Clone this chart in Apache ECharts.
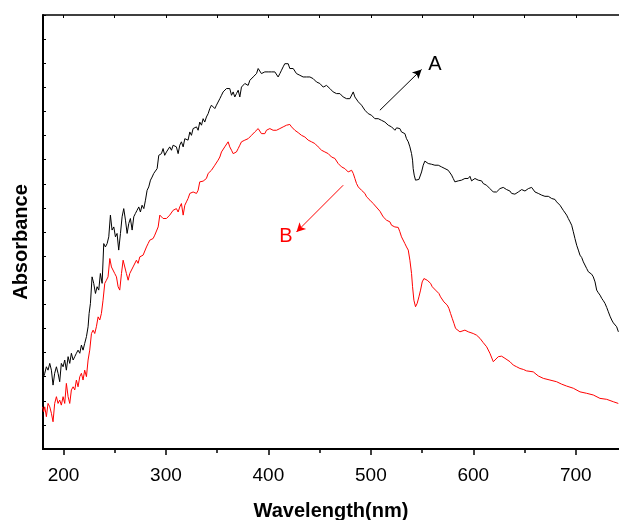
<!DOCTYPE html>
<html>
<head>
<meta charset="utf-8">
<script src="https://cdn.jsdelivr.net/npm/echarts@6/dist/echarts.min.js"></script>
<style>html,body{margin:0;padding:0;background:#fff}#chart{width:619px;height:520px}</style>
</head>
<body>
<div id="chart"></div>
<script>
// spectra: [wavelength nm, absorbance a.u.]
var curveA = [[180.1,0.293],[181.7,0.314],[183.3,0.341],[184.9,0.327],[186.6,0.355],[188.2,0.327],[189.8,0.265],[191.4,0.314],[193.1,0.341],[194.7,0.314],[196.3,0.279],[197.9,0.355],[199.6,0.341],[201.2,0.369],[202.8,0.327],[204.5,0.383],[206.1,0.355],[207.7,0.397],[209.4,0.369],[211.0,0.383],[212.6,0.397],[214.2,0.410],[215.9,0.397],[217.5,0.431],[219.1,0.410],[220.7,0.438],[222.4,0.466],[224.0,0.507],[225.0,0.562],[226.3,0.604],[227.9,0.714],[229.5,0.687],[231.2,0.645],[232.8,0.673],[234.4,0.659],[236.0,0.728],[237.7,0.687],[239.3,0.852],[240.9,0.838],[242.6,0.852],[244.2,0.880],[245.8,0.970],[247.4,0.908],[249.1,0.921],[250.7,0.880],[252.3,0.894],[253.9,0.825],[255.6,0.894],[257.2,0.963],[258.8,0.997],[260.5,0.949],[262.1,0.894],[263.7,0.935],[265.3,0.956],[267.0,0.908],[268.6,0.963],[270.2,0.977],[271.8,0.990],[273.5,1.004],[275.1,0.983],[276.7,1.011],[278.4,0.997],[280.0,1.032],[281.6,1.073],[283.2,1.087],[284.9,1.115],[286.5,1.128],[288.1,1.143],[289.8,1.149],[291.4,1.163],[293.0,1.218],
	[295.6,1.225],[297.2,1.246],[298.8,1.218],[300.5,1.232],[302.1,1.225],[303.7,1.253],[305.4,1.239],[307.0,1.260],[308.6,1.267],[310.2,1.253],[311.9,1.225],[313.5,1.260],[315.1,1.274],[316.8,1.253],[318.4,1.287],[320.0,1.294],[321.6,1.281],[323.3,1.315],[324.9,1.301],[326.5,1.329],[328.1,1.322],[329.8,1.336],[331.4,1.322],[333.0,1.356],[334.7,1.343],[336.3,1.370],[337.9,1.356],[339.5,1.377],[341.2,1.391],[342.8,1.412],[344.4,1.426],[346.1,1.419],[347.7,1.412],[349.3,1.426],[350.9,1.433],[352.6,1.453],[354.2,1.467],[355.8,1.481],[357.4,1.488],[359.1,1.495],[360.7,1.501],[362.3,1.495],[364.0,1.467],[365.6,1.481],[367.2,1.460],[368.8,1.474],[370.5,1.488],[372.1,1.460],[373.7,1.501],[375.3,1.508],[377.0,1.516],[378.6,1.522],[380.2,1.508],[381.9,1.529],[383.5,1.536],[385.1,1.543],[386.7,1.550],[388.4,1.557],[390.0,1.578],[391.6,1.571],[393.2,1.557],[394.9,1.564],[396.5,1.564],[398.1,1.571],[399.8,1.564],[401.4,1.567],[403.0,1.564],[404.6,1.571],[406.3,1.564],[407.9,1.557],
	[409.5,1.543],[411.2,1.557],[412.8,1.571],[414.4,1.585],[416.0,1.598],[417.7,1.605],[419.3,1.598],[420.9,1.578],[422.6,1.585],[424.2,1.578],[425.8,1.571],[427.4,1.557],[429.1,1.557],[430.7,1.550],[432.3,1.550],[433.9,1.543],[435.6,1.550],[437.2,1.543],[438.8,1.550],[440.5,1.543],[442.1,1.536],[443.7,1.536],[445.3,1.529],[447.0,1.522],[448.6,1.522],[450.2,1.516],[451.9,1.508],[453.5,1.501],[455.1,1.495],[456.7,1.508],[458.4,1.501],[460.0,1.495],[461.6,1.488],[463.2,1.481],[464.9,1.481],[466.5,1.474],[468.1,1.481],[469.8,1.474],[471.4,1.467],[473.0,1.460],[474.6,1.460],[476.3,1.453],[477.9,1.456],[479.5,1.453],[481.2,1.460],[482.8,1.481],[484.4,1.460],[486.0,1.453],[487.7,1.440],[489.3,1.433],[490.9,1.426],[492.5,1.419],[494.2,1.405],[495.8,1.398],[497.4,1.391],[499.1,1.384],[500.7,1.384],[502.3,1.377],[503.9,1.370],[505.6,1.377],[507.2,1.370],[508.8,1.363],[510.5,1.363],[512.1,1.356],[513.7,1.356],[515.3,1.350],[517.0,1.343],[518.6,1.343],[520.2,1.336],[521.8,1.329],[523.5,1.322],[525.1,1.332],[526.7,1.326],
	[528.3,1.329],[529.9,1.315],[531.6,1.308],[533.2,1.308],[534.8,1.287],[536.5,1.274],[538.1,1.253],[539.7,1.225],[540.7,1.198],[541.3,1.163],[542.3,1.136],[543.6,1.115],[545.2,1.112],[546.9,1.118],[548.5,1.126],[549.5,1.149],[551.1,1.177],[552.7,1.194],[554.4,1.191],[556.0,1.184],[557.6,1.187],[559.2,1.181],[560.9,1.184],[562.5,1.177],[564.1,1.181],[565.8,1.177],[567.4,1.173],[569.0,1.170],[570.6,1.167],[572.3,1.163],[573.9,1.159],[575.5,1.156],[577.1,1.149],[578.8,1.136],[580.4,1.122],[582.0,1.108],[583.7,1.115],[585.3,1.112],[586.9,1.118],[588.5,1.115],[590.2,1.118],[591.8,1.122],[593.4,1.115],[595.0,1.122],[596.7,1.131],[598.3,1.112],[599.9,1.115],[601.6,1.122],[603.2,1.128],[604.8,1.115],[606.4,1.108],[608.1,1.112],[609.7,1.101],[611.3,1.098],[612.9,1.094],[614.6,1.087],[616.2,1.080],[617.8,1.073],[619.5,1.066],[621.1,1.060],[622.7,1.066],[624.3,1.073],[626.0,1.080],[627.6,1.087],[629.2,1.085],[630.9,1.080],[632.5,1.076],[634.1,1.073],[635.7,1.070],
	[637.4,1.060],[639.0,1.062],[640.6,1.057],[642.3,1.062],[643.9,1.066],[645.5,1.070],[647.2,1.076],[648.8,1.073],[650.4,1.070],[652.0,1.076],[653.7,1.080],[655.3,1.080],[656.9,1.085],[658.6,1.080],[660.2,1.066],[661.8,1.062],[663.4,1.060],[665.1,1.057],[666.7,1.053],[668.3,1.053],[669.9,1.048],[671.6,1.046],[673.2,1.048],[674.8,1.043],[676.5,1.039],[678.1,1.046],[679.7,1.035],[681.3,1.025],[683.0,1.018],[684.6,1.011],[686.2,1.007],[687.8,0.990],[689.5,0.983],[691.1,0.970],[692.7,0.956],[694.4,0.942],[696.0,0.928],[697.6,0.901],[699.2,0.873],[700.9,0.845],[702.5,0.825],[704.1,0.804],[705.8,0.794],[707.4,0.776],[709.0,0.770],[710.6,0.749],[712.3,0.735],[713.9,0.728],[715.5,0.725],[717.1,0.714],[718.8,0.693],[720.4,0.659],[722.0,0.648],[723.7,0.638],[725.3,0.625],[726.9,0.615],[728.5,0.604],[730.2,0.587],[731.8,0.569],[733.4,0.551],[735.1,0.535],[736.7,0.523],[738.3,0.518],[739.9,0.507],[741.6,0.486]]
var curveB = [[179.4,0.175],[180.7,0.155],[181.7,0.175],[183.3,0.134],[184.9,0.189],[186.6,0.175],[188.2,0.148],[189.8,0.113],[191.4,0.189],[193.1,0.217],[194.7,0.189],[196.3,0.203],[197.9,0.182],[199.6,0.217],[201.2,0.189],[202.8,0.272],[204.5,0.217],[206.1,0.189],[207.7,0.245],[209.4,0.258],[211.0,0.245],[212.6,0.286],[214.2,0.258],[215.9,0.300],[217.5,0.314],[219.1,0.286],[220.7,0.327],[222.4,0.300],[224.0,0.369],[225.6,0.410],[227.3,0.479],[228.9,0.493],[230.5,0.479],[232.1,0.507],[233.8,0.548],[235.4,0.535],[237.0,0.562],[238.6,0.617],[240.3,0.687],[241.9,0.700],[243.5,0.714],[245.2,0.790],[246.8,0.755],[248.4,0.763],[250.0,0.728],[251.7,0.714],[253.3,0.673],[254.9,0.659],[256.6,0.728],[258.2,0.783],[259.8,0.776],[261.4,0.728],[263.1,0.700],[264.7,0.728],[266.3,0.735],[267.9,0.755],[269.6,0.749],[271.2,0.783],[272.8,0.770],[274.5,0.797],[276.1,0.790],[277.7,0.804],[279.3,0.811],[281.0,0.838],[282.6,0.852],[284.2,0.866],[285.8,0.873],[287.5,0.873],[289.1,0.887],[290.7,0.894],[292.4,0.921],[294.0,0.970],
	[295.6,0.963],[297.2,0.956],[298.8,0.963],[300.5,0.956],[302.1,0.963],[303.7,0.970],[305.4,0.977],[307.0,0.990],[308.6,0.983],[310.2,0.997],[311.9,0.983],[313.5,1.004],[315.1,1.018],[316.8,0.970],[318.4,1.011],[320.0,1.025],[321.6,1.039],[323.3,1.060],[324.9,1.066],[326.5,1.066],[328.1,1.073],[329.8,1.060],[331.4,1.073],[333.0,1.108],[334.7,1.101],[336.3,1.111],[337.9,1.115],[339.5,1.122],[341.2,1.143],[342.8,1.149],[344.4,1.156],[346.1,1.163],[347.7,1.177],[349.3,1.177],[350.9,1.198],[352.6,1.211],[354.2,1.232],[355.8,1.239],[357.4,1.253],[359.1,1.260],[360.7,1.274],[362.3,1.253],[364.0,1.239],[365.6,1.225],[367.2,1.218],[368.8,1.232],[370.5,1.246],[372.1,1.260],[373.7,1.274],[375.3,1.267],[377.0,1.281],[378.6,1.274],[380.2,1.287],[381.9,1.294],[383.5,1.301],[385.1,1.308],[386.7,1.315],[388.4,1.322],[390.0,1.329],[391.6,1.322],[393.2,1.308],[394.9,1.315],[396.5,1.308],[398.1,1.322],[399.8,1.315],[401.4,1.329],
	[403.0,1.326],[404.6,1.322],[406.3,1.329],[407.9,1.322],[409.5,1.315],[411.2,1.329],[412.8,1.332],[414.4,1.336],[416.0,1.340],[417.7,1.343],[419.3,1.340],[420.9,1.346],[422.6,1.336],[424.2,1.329],[425.8,1.322],[427.4,1.315],[429.1,1.312],[430.7,1.308],[432.3,1.301],[433.9,1.294],[435.6,1.294],[437.2,1.287],[438.8,1.281],[440.5,1.276],[442.1,1.274],[443.7,1.271],[445.3,1.267],[447.0,1.260],[448.6,1.253],[450.2,1.246],[451.9,1.239],[453.5,1.239],[455.1,1.232],[456.7,1.225],[458.4,1.225],[460.0,1.218],[461.6,1.211],[463.2,1.205],[464.9,1.205],[466.5,1.198],[468.1,1.184],[469.8,1.177],[471.4,1.170],[473.0,1.163],[474.6,1.163],[476.3,1.156],[477.9,1.149],[479.5,1.149],[481.2,1.156],[482.8,1.143],[484.4,1.122],[486.0,1.101],[487.7,1.087],[489.3,1.080],[490.9,1.073],[492.5,1.066],[494.2,1.060],[495.8,1.046],[497.4,1.039],[499.1,1.032],[500.7,1.025],[502.3,1.018],[508.9,0.986],[512.0,0.963],[515.3,0.949],
	[518.6,0.942],[520.2,0.928],[521.8,0.921],[523.4,0.921],[525.1,0.915],[526.7,0.919],[528.3,0.901],[529.9,0.880],[531.6,0.873],[533.2,0.852],[534.8,0.838],[536.5,0.825],[538.1,0.783],[539.7,0.728],[540.7,0.673],[542.0,0.617],[543.6,0.590],[545.2,0.604],[546.9,0.631],[548.5,0.659],[550.1,0.693],[551.8,0.707],[553.4,0.707],[555.0,0.700],[556.6,0.693],[558.3,0.687],[559.9,0.673],[561.5,0.666],[563.1,0.659],[564.8,0.652],[566.4,0.645],[568.0,0.631],[569.7,0.625],[571.3,0.610],[572.9,0.604],[574.5,0.597],[576.2,0.583],[577.8,0.562],[579.4,0.542],[581.1,0.521],[582.7,0.500],
	[586.9,0.486],[591.8,0.493],[595.1,0.486],[599.9,0.479],[603.2,0.472],[606.5,0.459],[609.7,0.441],[613.0,0.424],[616.2,0.397],[619.5,0.362],[621.1,0.355],[624.4,0.383],[627.6,0.385],[630.9,0.376],[635.8,0.362],[639.0,0.348],[642.3,0.341],[645.5,0.334],[648.8,0.330],[652.0,0.324],[658.5,0.320],[663.4,0.303],[668.3,0.293],[674.8,0.286],[681.3,0.279],[686.2,0.269],[691.1,0.261],[697.6,0.252],[704.1,0.237],[710.6,0.231],[717.1,0.224],[723.6,0.210],[730.2,0.206],[736.7,0.196],[741.5,0.189]]
// tick positions of the wavelength axis
var majorTicks = [200, 300, 400, 500, 600, 700]
var minorTicks = [250, 350, 450, 550, 650, 750]
// annotation arrows and letters, in data coordinates
var arrowA = [[508.8,1.405],[549.5,1.574]], labelA = [562.6,1.596]
var arrowB = [[473.0,1.094],[427.4,0.900]], labelB = [417.0,0.880]

var font = '"Liberation Sans", Arial, sans-serif'
var chart = echarts.init(document.getElementById('chart'), null, {renderer: 'canvas'})
function note(arrow, label, text, color) {
	return {
		markLine: {silent: true, symbol: ['none', 'arrow'], symbolSize: [7, 9], label: {show: false},
			lineStyle: {color: color, width: 1, type: 'solid'}, data: [[{coord: arrow[0]}, {coord: arrow[1]}]]},
		markPoint: {silent: true, symbol: 'circle', symbolSize: 0, data: [{coord: label, value: text}],
			label: {show: true, position: 'inside', formatter: text, color: color, fontSize: 20, fontFamily: font}},
	}
}
function waveAxis(position, ticks, inside, length, width, labels) {
	return {type: 'value', min: 180, max: 750, position: position, splitLine: {show: false},
		axisLine: {show: true, onZero: false, lineStyle: {color: '#000', width: position == 'top'? 1.5: 2}},
		axisTick: {show: true, inside: inside, length: length, lineStyle: {color: '#000', width: width}, customValues: ticks},
		axisLabel: labels? {color: '#000', fontSize: 19, fontFamily: font, margin: 17, customValues: ticks}: {show: false}}
}
chart.setOption({
	animation: false,
	grid: {left: 43, top: 15, width: 584, height: 434, outerBoundsMode: 'none', containLabel: false},
	xAxis: [
		waveAxis('bottom', majorTicks, false, 6, 1.5, true),
		waveAxis('bottom', minorTicks, false, 4, 1.5, false),
		waveAxis('top', majorTicks.concat(minorTicks), true, 3, 1, false),
	],
	yAxis: {type: 'value', min: 0, max: 1.8, interval: 0.1, axisLine: {show: true, onZero: false, lineStyle: {color: '#000', width: 2}},
		axisTick: {show: true, inside: true, length: 3, lineStyle: {color: '#000', width: 1}},
		axisLabel: {show: false}, splitLine: {show: false}},
	graphic: [
		{type: 'text', x: 331, y: 511, style: {text: 'Wavelength(nm)', font: 'bold 20px ' + font, fill: '#000', align: 'center', verticalAlign: 'middle'}},
		{type: 'text', x: 21, y: 242, rotation: Math.PI / 2, style: {text: 'Absorbance', font: 'bold 20px ' + font, fill: '#000', align: 'center', verticalAlign: 'middle'}},
	],
	series: [
		Object.assign({name: 'A', type: 'line', data: curveA, showSymbol: false, lineStyle: {color: '#000', width: 1}, itemStyle: {color: '#000'}}, note(arrowA, labelA, 'A', '#000')),
		Object.assign({name: 'B', type: 'line', data: curveB, showSymbol: false, lineStyle: {color: '#ff0000', width: 1}, itemStyle: {color: '#ff0000'}}, note(arrowB, labelB, 'B', '#ff0000')),
	],
})
</script>
</body>
</html>
